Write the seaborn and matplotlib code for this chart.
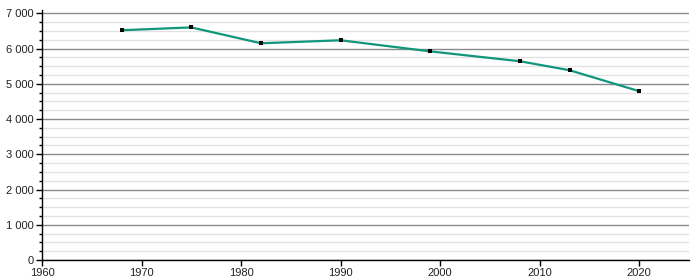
import matplotlib
matplotlib.use("Agg")
import matplotlib.pyplot as plt
import matplotlib.ticker as mticker
import seaborn as sns
import pandas as pd

years = [1968, 1975, 1982, 1990, 1999, 2008, 2013, 2020]
population = [6520, 6600, 6150, 6235, 5920, 5640, 5385, 4790]

df = pd.DataFrame({"year": years, "population": population})

sns.set_style("white")
plt.rcParams['font.family'] = ['Liberation Sans', 'DejaVu Sans']

fig = plt.figure(figsize=(7, 2.8), dpi=100)
ax = fig.add_axes([42/700, 20/280, (689-42)/700, (260-10)/280])

ax.set_xlim(1960, 2025)
ax.set_ylim(0, 7094)

ax.yaxis.set_major_locator(mticker.MultipleLocator(1000))
ax.yaxis.set_minor_locator(mticker.MultipleLocator(250))
ax.xaxis.set_major_locator(mticker.MultipleLocator(10))
ax.yaxis.set_major_formatter(mticker.FuncFormatter(lambda v, p: f"{int(v):,}".replace(",", " ")))

ax.grid(which="major", axis="y", color="#8a8a8a", linewidth=1.0, zorder=0)
ax.grid(which="minor", axis="y", color="#e2e2e2", linewidth=1.0, zorder=0)
ax.set_axisbelow(True)

sns.lineplot(data=df, x="year", y="population", ax=ax, color="#10967a",
             linewidth=1.6, zorder=3)
ax.scatter(df["year"], df["population"], marker="s", s=11, color="black",
           zorder=4, linewidths=0)

for s in ["top", "right"]:
    ax.spines[s].set_visible(False)
for s in ["left", "bottom"]:
    ax.spines[s].set_color("black")
    ax.spines[s].set_linewidth(1.0)

ax.tick_params(axis="both", which="major", direction="out", length=4, width=1,
               colors="black", labelsize=8, labelcolor="#222222", pad=2,
               left=True, bottom=True)
ax.tick_params(axis="y", which="minor", direction="out", length=2, width=1,
               colors="black", left=True)
ax.set_xlabel("")
ax.set_ylabel("")

fig.savefig("out.png", dpi=100)
